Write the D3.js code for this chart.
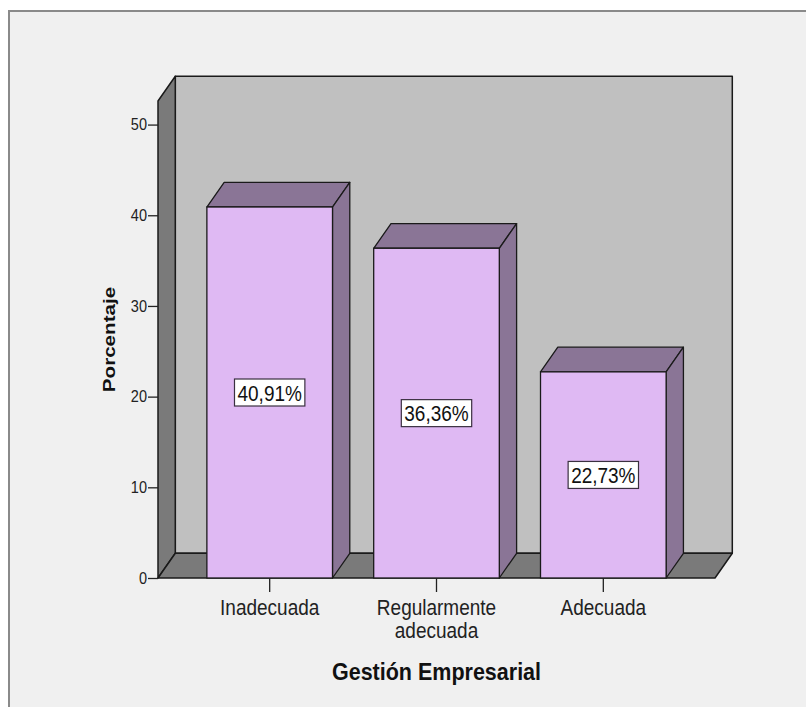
<!DOCTYPE html>
<html>
<head>
<meta charset="utf-8">
<script src="https://cdn.jsdelivr.net/npm/d3@7"></script>
<style>
  html, body { margin: 0; padding: 0; background: #ffffff; }
  svg { display: block; }
  text { font-family: "Liberation Sans", Arial, Helvetica, sans-serif; }
</style>
</head>
<body>
<script>
// Chart data
const categories = ["Inadecuada", "Regularmente adecuada", "Adecuada"];
const categoryLines = [["Inadecuada"], ["Regularmente", "adecuada"], ["Adecuada"]];
const percentages = [40.91, 36.36, 22.73];
const yTicks = [0, 10, 20, 30, 40, 50];
const xTitle = "Gestión Empresarial";
const yTitle = "Porcentaje";

const W = 806, H = 707;
const svg = d3.select("body").append("svg").attr("width", W).attr("height", H);

// panel background with its frame
svg.append("rect").attr("x", 9).attr("y", 11).attr("width", W).attr("height", H)
  .attr("fill", "#f0f0f0").attr("stroke", "#8a8a8a").attr("stroke-width", 2);

// front plane geometry and depth offset of the 3D box
const x0 = 158, x1 = 715, yBase = 578, yTop = 101;
const dx = 17.3, dy = -24.7;

const x = d3.scaleBand().domain(categories).range([x0, x1])
  .paddingInner(0.247).paddingOuter(0.293);
const y = d3.scaleLinear().domain([0, 52.6]).range([yBase, yTop]);

const edge = "#1a1a1a";
const line = d3.line();

// back wall
svg.append("path")
  .attr("d", line([[x0 + dx, yBase + dy], [x0 + dx, yTop + dy], [x1 + dx, yTop + dy], [x1 + dx, yBase + dy]]) + "Z")
  .attr("fill", "#c0c0c0").attr("stroke", edge).attr("stroke-width", 1.5).attr("stroke-linejoin", "round");

// left wall
svg.append("path")
  .attr("d", line([[x0, yBase], [x0, yTop], [x0 + dx, yTop + dy], [x0 + dx, yBase + dy]]) + "Z")
  .attr("fill", "#7a7a7a").attr("stroke", edge).attr("stroke-width", 1.5).attr("stroke-linejoin", "round");

// floor
svg.append("path")
  .attr("d", line([[x0, yBase], [x1, yBase], [x1 + dx, yBase + dy], [x0 + dx, yBase + dy]]) + "Z")
  .attr("fill", "#7a7a7a").attr("stroke", edge).attr("stroke-width", 1.5).attr("stroke-linejoin", "round");

// bars: top face, right side face, front face
const bw = x.bandwidth();
const bars = svg.append("g").selectAll("g").data(categories).join("g");

bars.append("path")
  .attr("d", (c, i) => {
    const l = x(c), r = l + bw, t = y(percentages[i]);
    return line([[l, t], [l + dx, t + dy], [r + dx, t + dy], [r, t]]) + "Z";
  })
  .attr("fill", "#8a7596").attr("stroke", edge).attr("stroke-width", 1.3).attr("stroke-linejoin", "round");

bars.append("path")
  .attr("d", (c, i) => {
    const r = x(c) + bw, t = y(percentages[i]);
    return line([[r, t], [r + dx, t + dy], [r + dx, yBase + dy], [r, yBase]]) + "Z";
  })
  .attr("fill", "#8a7596").attr("stroke", edge).attr("stroke-width", 1.3).attr("stroke-linejoin", "round");

bars.append("rect")
  .attr("x", c => x(c))
  .attr("y", (c, i) => y(percentages[i]))
  .attr("width", bw)
  .attr("height", (c, i) => yBase - y(percentages[i]))
  .attr("fill", "#dfb9f3").attr("stroke", edge).attr("stroke-width", 1.3);

// value labels in white boxes at mid-height of each bar
const fmt = v => d3.format(".2f")(v).replace(".", ",") + "%";
const labels = svg.append("g").selectAll("g").data(categories).join("g")
  .attr("transform", (c, i) => `translate(${x(c) + bw / 2},${y(percentages[i] / 2)})`);
labels.append("rect").attr("fill", "#ffffff").attr("stroke", "#3a3040").attr("stroke-width", 1.2);
const valueText = labels.append("g").attr("transform", "scale(1,1.17)")
  .append("text")
  .attr("text-anchor", "middle")
  .attr("dy", "0.36em")
  .attr("font-size", 19)
  .attr("fill", "#111")
  .text((c, i) => fmt(percentages[i]));
valueText.each(function () {
  const w = this.getComputedTextLength();
  d3.select(this.parentNode.parentNode).select("rect")
    .attr("x", -w / 2 - 3).attr("y", -13.5).attr("width", w + 6).attr("height", 27);
});

// y axis on the front edge of the left wall
const yAxis = svg.append("g").attr("transform", `translate(${x0},0)`)
  .call(d3.axisLeft(y).tickValues(yTicks).tickSize(10).tickPadding(1).tickFormat(d3.format("d")));
yAxis.select(".domain").remove();
yAxis.selectAll(".tick line").attr("stroke", "#222").attr("stroke-width", 1.3);
yAxis.selectAll(".tick text")
  .attr("font-family", null)
  .attr("font-size", 14.5).attr("fill", "#222")
  .attr("transform", "scale(1,1.13)");

// x axis ticks under each bar
const xAxis = svg.append("g").attr("transform", `translate(0,${yBase})`);
xAxis.selectAll("line").data(categories).join("line")
  .attr("x1", c => x(c) + bw / 2).attr("x2", c => x(c) + bw / 2)
  .attr("y1", 0).attr("y2", 14)
  .attr("stroke", "#222").attr("stroke-width", 1.3);

const catLabels = svg.append("g").selectAll("g").data(categories).join("g")
  .attr("transform", c => `translate(${x(c) + bw / 2},615) scale(1,1.18)`);
catLabels.each(function (c, i) {
  d3.select(this).selectAll("text").data(categoryLines[i]).join("text")
    .attr("text-anchor", "middle")
    .attr("y", (d, j) => j * 23 / 1.18)
    .attr("font-size", 19)
    .attr("fill", "#222")
    .text(d => d);
});

// axis titles
svg.append("g").attr("transform", `translate(${(x0 + x1) / 2},680) scale(1,1.1)`)
  .append("text")
  .attr("text-anchor", "middle")
  .attr("font-size", 21.5)
  .attr("font-weight", "bold")
  .attr("fill", "#111")
  .text(xTitle);

svg.append("text")
  .attr("transform", `translate(115,${(yBase + yTop) / 2}) rotate(-90) scale(1.25,1)`)
  .attr("text-anchor", "middle")
  .attr("font-size", 16.5)
  .attr("font-weight", "bold")
  .attr("fill", "#111")
  .text(yTitle);
</script>
</body>
</html>
